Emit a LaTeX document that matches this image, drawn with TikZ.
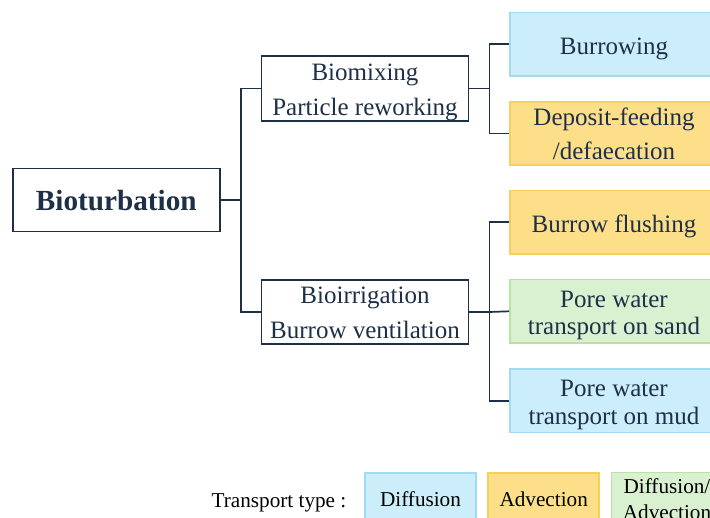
\documentclass[tikz,border=0pt]{standalone}
\usepackage{fontspec}
\setmainfont{Liberation Serif}
\definecolor{navy}{HTML}{1E3048}
\definecolor{diffill}{HTML}{CCEEFB}
\definecolor{difline}{HTML}{A0DAF3}
\definecolor{advfill}{HTML}{FDDF8A}
\definecolor{advline}{HTML}{F8CE5C}
\definecolor{mixfill}{HTML}{DAF1D1}
\definecolor{mixline}{HTML}{B7E2A6}
% fixed line height and depth so every label sits on the same baseline grid
\newcommand\topprop{\rule{0pt}{1.0em}}
\newcommand\toppropmid{\rule{0pt}{0.96em}}
\newcommand\botprop{\rule[-0.22em]{0pt}{0.22em}}
\newcommand\toppropbold{\rule{0pt}{0.9em}}
\newcommand\botpropbold{\rule[-0.21em]{0pt}{0.21em}}
\tikzset{
  tree/.style={draw=navy, line width=1.7pt},
  propped/.style={execute at begin node=\topprop, execute at end node=\botprop},
  mainbox/.style={draw=navy, line width=1.7pt, fill=white, text=navy,
    minimum width=207pt, minimum height=63pt, inner sep=0pt, align=center,
    execute at begin node=\toppropbold, execute at end node=\botpropbold,
    font=\fontsize{29.2}{34}\selectfont\bfseries},
  midbox/.style={draw=navy, line width=1.7pt, fill=white, text=navy,
    minimum width=207pt, minimum height=63.5pt, inner sep=0pt, align=center,
    font=\fontsize{25}{35}\selectfont},
  leafbox/.style={line width=1.6pt, text=navy,
    minimum width=208pt, minimum height=63.5pt, inner sep=0pt, align=center,
    font=\fontsize{25}{34}\selectfont},
  tightlines/.style={font=\fontsize{25}{27.5}\selectfont},
  diffusion/.style={fill=diffill, draw=difline},
  advection/.style={fill=advfill, draw=advline},
  mixed/.style={fill=mixfill, draw=mixline},
  legbox/.style={line width=1.6pt, text=black, minimum width=111pt,
    minimum height=50.6pt, inner sep=0pt, align=center,
    font=\fontsize{21.2}{26}\selectfont},
}
\begin{document}
\begin{tikzpicture}[x=1pt,y=-1pt]
\useasboundingbox (0,0) rectangle (710,518);
\clip (0,0) rectangle (710,518);

% root
\node[mainbox] (bio) at (116.3,200) {Bioturbation};

% processes
\node[midbox] (mix) at (365,88.5) {\toppropmid Biomixing\\Particle reworking\botprop};
\node[midbox] (irr) at (365,312) {\toppropmid Bioirrigation\\Burrow ventilation\botprop};

% mechanisms
\node[leafbox, diffusion, propped] (burrow) at (614,44.3) {Burrowing};
\node[leafbox, advection] (deposit) at (614,133.5) {\toppropmid Deposit-feeding\\/defaecation\botprop};
\node[leafbox, advection, propped] (flush) at (614,222.3) {Burrow flushing};
\node[leafbox, mixed, tightlines] (sand) at (614,311.3) {\topprop Pore water\\transport on sand\botprop};
\node[leafbox, diffusion, tightlines] (mud) at (614,400.8) {\topprop Pore water\\transport on mud\botprop};

% branching junctions
\coordinate (j1) at (241,200);
\coordinate (j2) at (489.5,88.5);
\coordinate (j3) at (489.5,312);

\draw[tree] (bio.east) -- (j1);
\draw[tree] (mix.west) -| (j1) |- (irr.west);
\draw[tree] (mix.east) -- (j2);
\draw[tree] (burrow.west) -| (j2) |- (deposit.west);
\draw[tree] (irr.east) -- (j3);
\draw[tree] (flush.west) -| (j3) |- (mud.west);
\draw[tree] (j3) -- (sand.west);

% legend
\node[propped, inner sep=0pt, font=\fontsize{21.2}{26}\selectfont, text=black] (legtitle) at (279,499.5) {Transport type :};
\node[legbox, diffusion, propped] (legdif) at (420.5,498.6) {Diffusion};
\node[legbox, advection, propped] (legadv) at (543.7,498.6) {Advection};
\node[legbox, mixed] (legmix) at (667,498.6) {\topprop Diffusion/\\Advection\botprop};
\end{tikzpicture}
\end{document}
